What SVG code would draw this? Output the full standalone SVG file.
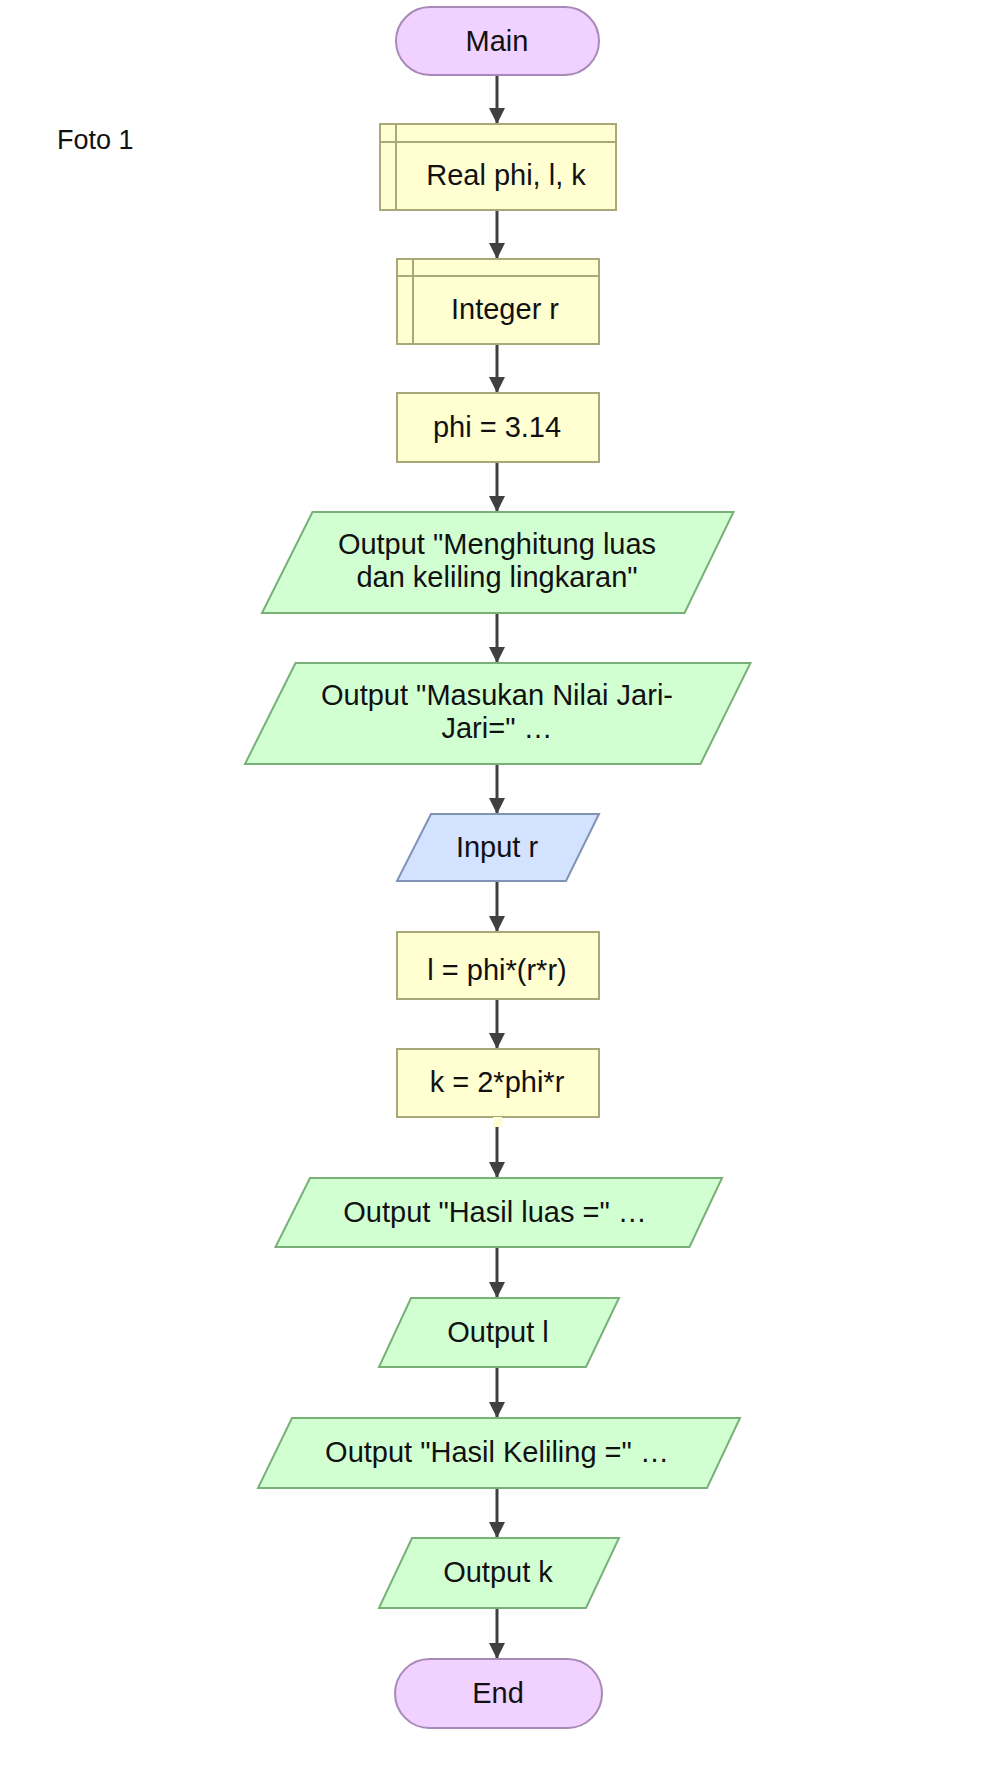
<svg xmlns="http://www.w3.org/2000/svg" width="999" height="1776" viewBox="0 0 999 1776">
<style>
text{font-family:"Liberation Sans",Arial,sans-serif;font-size:29px;fill:#111;text-anchor:middle}
.term{fill:#f0d1ff;stroke:#a88ab8;stroke-width:2}
.proc{fill:#ffffd2;stroke:#a8a878;stroke-width:2}
.out{fill:#d2ffd2;stroke:#78b078;stroke-width:2}
.inp{fill:#d2e2ff;stroke:#7f93b5;stroke-width:2}
.con{stroke:#404040;stroke-width:3;fill:none;marker-end:url(#arr)}
</style>
<defs>
<marker id="arr" viewBox="0 0 16 16" refX="16" refY="8" markerWidth="16" markerHeight="16" markerUnits="userSpaceOnUse" orient="auto">
<path d="M0,0 L16,8 L0,16 z" fill="#404040"/>
</marker>
</defs>
<rect width="999" height="1776" fill="#fff"/>
<text x="57" y="149" style="font-size:27px;text-anchor:start">Foto 1</text>
<g id="connectors">
<line class="con" x1="497" y1="75" x2="497" y2="124"/>
<line class="con" x1="497" y1="210" x2="497" y2="259"/>
<line class="con" x1="497" y1="344" x2="497" y2="393"/>
<line class="con" x1="497" y1="462" x2="497" y2="512"/>
<line class="con" x1="497" y1="613" x2="497" y2="663"/>
<line class="con" x1="497" y1="764" x2="497" y2="814"/>
<line class="con" x1="497" y1="881" x2="497" y2="932"/>
<line class="con" x1="497" y1="999" x2="497" y2="1049"/>
<line class="con" x1="497" y1="1127" x2="497" y2="1178"/>
<line class="con" x1="497" y1="1247" x2="497" y2="1298"/>
<line class="con" x1="497" y1="1367" x2="497" y2="1418"/>
<line class="con" x1="497" y1="1488" x2="497" y2="1538"/>
<line class="con" x1="497" y1="1608" x2="497" y2="1659"/>
</g>
<g id="main"><rect class="term" x="396" y="7" width="203" height="68" rx="34"/><text x="497" y="51">Main</text></g>
<g id="decl-real"><rect class="proc" x="380" y="124" width="236" height="86"/><line x1="396" y1="124" x2="396" y2="210" stroke="#a8a878" stroke-width="2"/><line x1="380" y1="142" x2="616" y2="142" stroke="#a8a878" stroke-width="2"/><text x="506" y="185">Real phi, l, k</text></g>
<g id="decl-int"><rect class="proc" x="397" y="259" width="202" height="85"/><line x1="413" y1="259" x2="413" y2="344" stroke="#a8a878" stroke-width="2"/><line x1="397" y1="276" x2="599" y2="276" stroke="#a8a878" stroke-width="2"/><text x="505" y="319">Integer r</text></g>
<g id="assign-phi"><rect class="proc" x="397" y="393" width="202" height="69"/><text x="497" y="437">phi = 3.14</text></g>
<g id="out-title"><polygon class="out" points="312.5,512 733.5,512 684.5,613 262,613"/><text x="497" y="554">Output "Menghitung luas</text><text x="497" y="587">dan keliling lingkaran"</text></g>
<g id="out-prompt"><polygon class="out" points="295.5,663 750.5,663 700.5,764 245,764"/><text x="497" y="705">Output "Masukan Nilai Jari-</text><text x="497" y="738">Jari=" …</text></g>
<g id="input-r"><polygon class="inp" points="431,814 599,814 566,881 397,881"/><text x="497" y="857">Input r</text></g>
<g id="assign-l"><rect class="proc" x="397" y="932" width="202" height="67"/><text x="497" y="980">l = phi*(r*r)</text></g>
<g id="assign-k"><rect class="proc" x="397" y="1049" width="202" height="68"/><rect x="493" y="1117" width="9" height="10" fill="#ffffd2"/><text x="497" y="1092">k = 2*phi*r</text></g>
<g id="out-luas"><polygon class="out" points="310,1178 722,1178 689.5,1247 275.5,1247"/><text x="495" y="1222">Output "Hasil luas =" …</text></g>
<g id="out-l"><polygon class="out" points="411,1298 619,1298 586,1367 379,1367"/><text x="498" y="1342">Output l</text></g>
<g id="out-keliling"><polygon class="out" points="292,1418 740,1418 707,1488 258,1488"/><text x="497" y="1462">Output "Hasil Keliling =" …</text></g>
<g id="out-k"><polygon class="out" points="412,1538 619,1538 586,1608 379,1608"/><text x="498" y="1582">Output k</text></g>
<g id="end"><rect class="term" x="395" y="1659" width="207" height="69" rx="34.5"/><text x="498" y="1703">End</text></g>
</svg>
